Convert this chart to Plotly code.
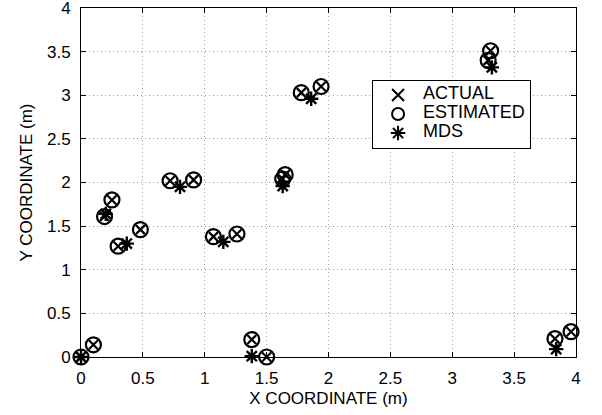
import plotly.graph_objects as go

# Node positions (actual == estimated, overlapping in the chart)
est_x = [0.0, 0.10, 0.19, 0.25, 0.30, 0.48, 0.72, 0.91, 1.07, 1.26, 1.38, 1.50, 1.63, 1.65, 1.78, 1.94, 3.29, 3.31, 3.83, 3.96]
est_y = [0.0, 0.14, 1.61, 1.80, 1.27, 1.46, 2.02, 2.03, 1.38, 1.41, 0.20, 0.0, 2.04, 2.09, 3.03, 3.10, 3.40, 3.51, 0.21, 0.29]
act_x = est_x
act_y = est_y
mds_x = [0.0, 0.20, 0.37, 0.80, 1.15, 1.38, 1.63, 1.86, 3.32, 3.84]
mds_y = [0.0, 1.64, 1.30, 1.95, 1.32, 0.01, 1.96, 2.96, 3.32, 0.09]

xticks = [0, 0.5, 1, 1.5, 2, 2.5, 3, 3.5, 4]
yticks = [0, 0.5, 1, 1.5, 2, 2.5, 3, 3.5, 4]
xtick_text = ["0", "0.5", "1", "1.5", "2", "2.5", "3", "3.5", "4"]
ytick_text = ["0", "0.5", "1", "1.5", "2", "2.5", "3", "3.5", "4"]
legend_names = ["ACTUAL", "ESTIMATED", "MDS"]

font = "Liberation Sans, Arial, Helvetica, sans-serif"


def lname(s):
    return '<span style="font-size:18px">' + s + '</span>'


fig = go.Figure()
fig.add_trace(go.Scatter(x=act_x, y=act_y, mode="markers", name=lname(legend_names[0]), cliponaxis=False,
                         marker=dict(symbol="x-thin-open", size=9, color="black",
                                     line=dict(width=2.2, color="black"))))
fig.add_trace(go.Scatter(x=est_x, y=est_y, mode="markers", name=lname(legend_names[1]), cliponaxis=False,
                         marker=dict(symbol="circle-open", size=15, color="black",
                                     line=dict(width=2.2, color="black"))))
fig.add_trace(go.Scatter(x=mds_x, y=mds_y, mode="markers", name=lname(legend_names[2]), cliponaxis=False,
                         marker=dict(symbol="asterisk-open", size=12, color="black",
                                     line=dict(width=2.4, color="black"))))

axis_common = dict(
    showline=True, linecolor="black", linewidth=1, mirror="ticks",
    ticks="inside", ticklen=5, tickcolor="black", automargin=False,
    ticklabeloverflow="allow",
    showgrid=True, gridcolor="#a0a0a0", griddash="1px,3px", gridwidth=1,
    zeroline=False, tickfont=dict(size=17, color="black", family=font),
)

fig.update_layout(
    width=602, height=415,
    margin=dict(l=81, r=26, t=8, b=58),
    paper_bgcolor="white", plot_bgcolor="white",
    font=dict(family=font, size=17, color="black"),
    xaxis=dict(range=[0, 4], tickvals=xticks, ticktext=xtick_text, ticklabelstandoff=6,
               title=dict(text="X COORDINATE (m)", font=dict(size=17), standoff=4),
               **axis_common),
    yaxis=dict(range=[0, 4], tickvals=yticks, ticktext=ytick_text, ticklabelstandoff=6,
               title=dict(text="Y COORDINATE (m)", font=dict(size=17), standoff=10),
               **axis_common),
    legend=dict(x=0.588, y=0.795, xanchor="left", yanchor="top",
                bgcolor="white", bordercolor="black", borderwidth=1,
                font=dict(size=11, family=font), tracegroupgap=0,
                itemwidth=40, itemsizing="constant"),
    showlegend=True,
)

fig.write_html("out.html", config={"displayModeBar": False},
               post_script="document.body.style.margin='0';")
